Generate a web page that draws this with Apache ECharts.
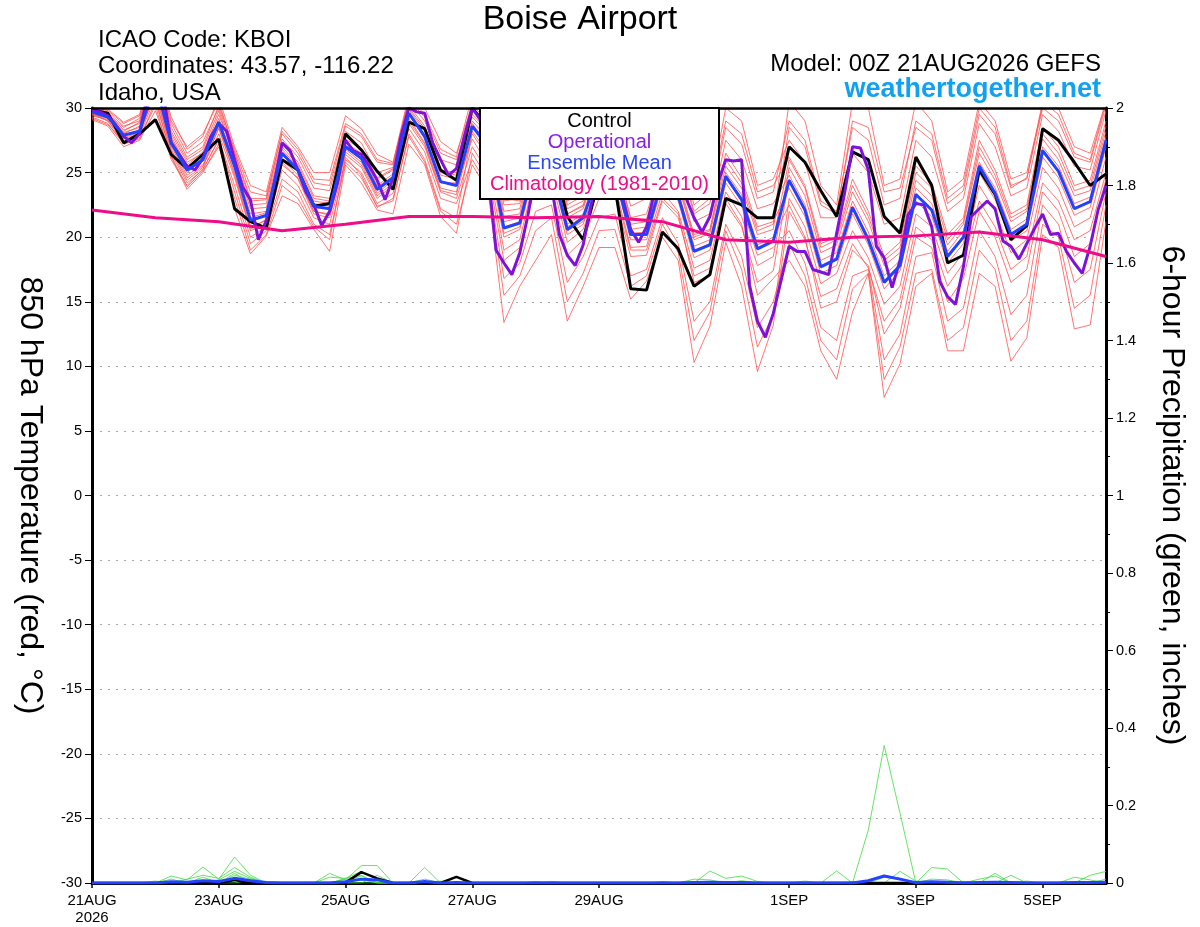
<!DOCTYPE html>
<html><head><meta charset="utf-8">
<script src="https://cdn.jsdelivr.net/npm/echarts@6/dist/echarts.min.js"></script>
<style>html,body{margin:0;padding:0;background:#fff}#c{width:1200px;height:927px}</style>
</head><body><div id="c"></div>
<script>
// ---------- time axis ----------
const stepHours = 6;        // ensemble / control / mean / precip
const opStepHours = 3;      // operational run
const climStepHours = 24;   // climatology (daily)
const tickHours  = [0, 48, 96, 144, 192, 264, 312, 360];
const tickLabels = ['21AUG\n2026', '23AUG', '25AUG', '27AUG', '29AUG', '1SEP', '3SEP', '5SEP'];

// ---------- 850 hPa temperature (°C) ----------
const control = [
29.85,29.6,27.3,28.0, 29.1,26.4,25.3,26.4, 27.6,22.2,21.2,20.7, 26.0,25.2,22.4,22.6,
28.0,26.75,25.1,23.7, 28.9,28.4,25.2,24.4, 30.0,28.5,24.0,23.5, 27.5,26.5,21.6,19.8,
24.5,24.0,16.0,15.9, 20.4,19.1,16.2,17.1, 23.0,22.5,21.5,21.5, 27.0,25.8,23.6,21.6,
26.6,26.0,21.6,20.3, 26.2,24.0,18.0,18.6, 25.2,23.3,19.8,20.9, 28.4,27.5,25.8,24.0, 24.9];
const ensMean = [
29.7,29.3,27.9,28.2, 32.0,27.3,25.2,26.0, 28.9,25.5,21.3,21.7, 26.5,25.2,22.4,22.2,
27.0,26.1,23.7,24.6, 29.6,27.8,24.3,24.0, 28.6,27.0,20.7,21.1, 26.0,25.5,20.6,21.5,
25.0,25.0,20.2,20.2, 24.5,23.2,18.9,19.4, 24.7,22.9,19.1,19.7, 24.4,22.1,17.7,18.3,
22.3,19.8,16.5,17.8, 23.3,22.1,18.5,20.0, 25.5,23.4,20.2,21.0, 26.7,25.1,22.2,22.75, 27.5];
const operational = [
29.9,29.7,29.4,28.7,27.8,27.3,28.0,31.0,
32.5,31.0,27.3,26.4,25.5,25.2,26.1,27.8,
28.8,28.2,26.0,23.9,22.9,19.8,21.3,24.2,
27.3,26.7,25.2,23.5,22.5,20.9,22.0,24.2,
27.5,26.7,26.4,25.5,24.4,22.9,24.6,27.8,
30.0,29.7,29.6,27.3,26.0,24.8,25.3,27.8,
30.0,29.1,25.0,19.0,18.0,17.1,18.8,21.6,
25.0,26.0,24.0,20.2,18.6,17.8,19.4,22.5,
25.0,25.5,24.5,23.0,20.6,19.6,20.8,23.5,
25.5,26.0,25.5,23.0,21.5,20.4,21.6,24.2,
26.0,25.9,26.0,16.3,13.5,12.25,14.1,16.7,
19.3,18.9,18.9,17.5,17.3,17.1,20.3,23.4,
27.0,26.9,25.2,19.3,18.4,16.1,18.2,21.7,
22.6,22.5,20.8,16.6,15.4,14.8,17.7,21.6,
22.2,22.8,22.2,19.7,19.3,18.3,19.5,20.7,
21.8,20.2,20.3,18.9,18.0,17.2,19.3,22.1,
24.0];
const climatology = [22.1,21.5,21.2,20.5,21.0,21.6,21.6,21.5,21.6,21.2,19.8,19.6,20.0,20.1,20.4,19.8,18.5];

const mem01 = [29.2,28.7,27.4,27.9, 30.8,26.2,23.7,25.0, 27.2,22.2,18.7,20.1, 23.2,22.6,20.6,18.9, 25.6,24.2,22.1,21.8, 27.2,25.6,21.6,20.3, 26.5,24.5,16.8,18.0, 22.0,22.5,16.5,18.5, 21.5,21.8,17.0,17.5, 21.5,19.5,13.5,15.0, 21.0,18.5,13.0,15.0, 19.5,17.0,12.0,10.5, 16.0,17.2,9.0,11.5, 17.2,17.5,12.0,13.0, 19.0,17.5,12.0,13.5, 21.0,20.0,14.5,15.5, 22.5];
const mem02 = [29.1,28.6,27.0,27.5, 29.8,26.3,23.9,25.1, 27.0,23.0,19.0,20.2, 24.0,23.0,20.8,19.8, 26.2,24.8,22.3,23.0, 27.8,25.8,22.0,21.0, 25.6,23.6,13.4,16.2, 18.2,20.2,13.5,16.2, 19.2,19.2,15.2,16.6, 20.0,18.2,10.3,13.1, 19.6,16.2,9.6,13.2, 22.0,19.8,15.4,16.0, 19.5,17.6,13.5,15.2, 20.8,19.8,16.2,18.0, 22.8,20.8,17.5,18.5, 24.2,22.8,19.8,20.5, 25.0];
const mem03 = [29.6,29.0,27.3,27.7, 30.2,26.0,24.0,25.3, 27.5,23.5,19.5,20.5, 24.5,23.5,21.0,20.2, 25.8,24.6,22.4,22.8, 28.0,26.0,22.2,21.5, 28.2,26.5,20.3,20.8, 25.8,25.2,20.5,21.2, 23.5,23.6,19.0,19.0, 23.0,21.8,16.5,17.0, 23.0,21.0,15.5,16.8, 18.2,16.2,11.2,9.0, 14.2,17.2,7.6,10.2, 16.2,17.2,11.2,11.2, 17.2,16.2,10.4,12.2, 20.2,19.2,12.9,13.2, 21.2];
const mem04 = [29.3,28.8,27.2,27.6, 30.5,26.5,24.2,25.2, 27.6,24.0,20.0,20.8, 25.2,24.0,21.5,21.0, 26.0,25.0,22.6,23.4, 28.4,26.6,23.0,22.6, 26.0,24.0,15.5,17.0, 20.5,21.5,15.0,17.2, 20.5,20.6,16.2,17.0, 21.0,18.8,12.0,14.2, 20.5,17.5,11.5,14.0, 23.0,20.8,16.4,17.2, 20.5,18.4,14.8,16.2, 21.8,20.8,17.2,18.8, 24.0,22.0,18.8,19.8, 25.4,23.8,20.8,21.5, 26.2];
const mem05 = [29.5,29.2,27.8,28.2, 31.0,26.7,24.4,25.4, 28.5,24.8,20.6,21.4, 25.6,24.6,22.0,21.7, 26.8,25.8,23.4,24.4, 29.0,27.2,23.6,23.3, 28.0,26.2,20.0,20.6, 25.5,25.0,20.2,21.0, 24.5,24.6,19.8,19.8, 24.0,22.8,18.4,19.0, 24.2,22.4,18.6,19.2, 20.5,18.0,13.0,12.0, 17.0,17.5,10.5,12.5, 18.5,18.8,13.5,14.5, 20.5,18.5,14.0,15.5, 22.5,21.0,16.5,17.5, 23.5];
const mem06 = [29.4,29.1,27.7,28.1, 31.2,26.8,24.6,25.5, 28.0,24.6,20.5,21.0, 25.8,24.5,21.8,21.5, 26.4,25.4,23.0,24.0, 28.8,27.0,23.5,23.0, 27.0,25.0,18.2,19.2, 24.0,23.8,18.6,19.8, 23.0,23.2,18.5,18.6, 22.8,21.5,17.0,17.6, 22.6,20.8,16.5,17.4, 24.5,22.2,17.8,18.4, 22.4,20.0,16.6,17.9, 23.4,22.2,18.6,20.1, 25.6,23.5,20.3,21.1, 26.8,25.2,22.3,22.8, 27.6];
const mem07 = [29.5,29.0,27.6,28.0, 31.5,27.0,24.8,25.6, 28.4,25.0,20.8,21.3, 26.0,24.8,22.0,21.8, 26.6,25.6,23.2,24.2, 29.2,27.3,23.8,23.5, 28.8,27.2,21.2,21.5, 26.5,26.0,21.0,21.8, 25.5,25.4,20.6,20.8, 24.8,23.5,19.3,19.8, 25.0,23.3,19.4,20.0, 22.5,20.0,14.5,15.0, 19.0,17.8,12.5,14.5, 20.0,19.2,15.0,16.8, 22.0,20.0,16.5,17.5, 23.5,22.0,18.5,19.5, 24.5];
const mem08 = [29.6,29.2,27.9,28.3, 31.8,27.3,25.0,26.0, 28.8,25.4,21.2,21.6, 26.4,25.0,22.3,22.2, 27.0,26.0,23.6,24.6, 29.6,27.8,24.3,24.0, 27.6,25.6,19.0,19.8, 25.0,24.5,19.6,20.6, 24.0,24.0,19.2,19.3, 23.5,22.0,17.6,18.2, 23.5,21.6,17.8,18.5, 25.4,23.2,18.8,19.4, 23.5,21.2,17.8,18.8, 24.4,23.2,19.4,21.0, 26.5,24.4,21.2,22.0, 27.6,26.0,23.2,23.6, 28.2];
const mem09 = [29.8,29.4,28.2,28.9, 32.6,27.6,25.6,26.6, 29.0,25.5,21.5,21.9, 26.6,25.3,22.6,22.4, 27.1,26.3,23.9,24.7, 29.5,27.6,24.2,24.2, 29.5,28.2,22.5,22.6, 27.5,26.8,21.8,22.5, 26.5,26.2,21.5,21.8, 25.8,24.5,20.2,20.6, 26.5,24.6,20.8,21.2, 23.8,21.6,17.2,17.8, 21.8,19.4,16.0,17.4, 22.8,21.6,18.0,19.5, 25.0,22.9,19.7,20.5, 26.2,24.6,21.7,22.3, 27.0];
const mem10 = [29.9,29.4,28.1,28.5, 32.2,27.8,25.5,26.3, 29.2,25.8,21.8,22.0, 26.8,25.4,22.8,22.6, 27.3,26.5,24.0,24.9, 29.9,28.2,24.8,24.5, 28.6,27.0,20.8,21.2, 26.2,25.6,20.8,21.6, 25.0,25.2,20.3,20.4, 24.6,23.3,19.0,19.5, 24.8,23.0,19.2,19.8, 26.0,23.8,19.2,19.8, 24.0,21.6,18.2,19.2, 25.0,23.8,19.8,21.2, 27.0,24.8,21.5,22.2, 28.0,26.5,23.6,24.0, 28.6];
const mem11 = [30.0,29.6,28.3,28.8, 32.5,28.0,25.8,26.5, 29.5,26.2,22.5,22.6, 27.2,25.8,23.2,23.0, 27.6,26.8,24.5,25.2, 30.2,28.6,25.2,25.0, 30.0,28.8,22.8,23.0, 28.0,27.2,22.2,22.8, 27.4,27.0,22.4,23.0, 26.6,25.5,21.2,21.8, 27.5,26.0,22.2,22.6, 24.8,22.5,18.2,18.8, 22.8,20.4,17.0,18.2, 23.8,22.6,18.9,20.5, 25.8,23.8,20.6,21.4, 27.0,25.5,22.6,23.1, 27.8];
const mem12 = [29.7,29.3,28.0,28.6, 32.8,28.2,26.0,26.8, 29.8,26.0,22.2,22.3, 27.0,25.6,23.0,22.8, 27.8,26.9,24.6,25.3, 30.0,28.4,25.0,24.8, 29.0,27.6,21.6,21.8, 27.0,26.4,21.5,22.2, 26.0,25.8,21.0,21.2, 25.2,24.0,19.8,20.3, 25.5,23.8,20.2,20.6, 28.5,27.0,22.5,21.8, 29.0,28.5,23.5,23.8, 28.5,27.5,22.6,23.6, 29.5,28.0,23.8,24.6, 30.0,29.0,26.2,25.8, 30.2];
const mem13 = [30.0,29.7,28.6,29.0, 33.2,28.8,26.5,27.4, 30.0,26.5,22.8,22.9, 27.6,26.2,23.8,23.6, 28.2,27.3,25.0,25.4, 30.5,29.0,26.0,25.6, 30.5,29.5,23.4,23.4, 29.0,28.0,22.8,23.4, 28.0,27.6,23.0,24.0, 27.0,26.5,22.0,23.0, 29.0,28.0,23.5,24.0, 26.2,24.0,19.5,20.0, 24.5,22.0,18.5,19.6, 25.5,24.2,20.2,21.5, 27.5,25.2,21.8,22.5, 28.5,27.0,24.0,24.4, 29.0];
const mem14 = [30.2,29.9,28.9,29.5, 33.4,29.0,27.0,28.0, 30.5,26.6,23.0,23.0, 28.2,26.8,24.5,24.4, 28.8,28.0,26.0,25.7, 30.6,29.3,26.5,26.0, 29.3,28.0,22.0,22.2, 27.2,26.6,21.8,22.4, 26.2,26.0,21.4,21.4, 25.5,24.2,20.0,20.5, 26.0,24.2,20.5,21.0, 30.5,29.0,24.0,22.5, 30.5,30.0,24.0,24.5, 30.5,29.0,23.5,24.5, 30.5,29.0,24.5,25.0, 30.2,30.0,27.0,26.5, 30.5];
const mem15 = [29.8,29.5,28.5,29.2, 33.0,28.5,26.2,27.0, 30.2,26.8,23.5,23.2, 28.0,26.5,24.2,24.0, 28.6,27.8,25.8,25.6, 30.8,29.5,26.8,26.2, 31.0,30.0,23.0,22.8, 28.5,27.8,23.0,23.0, 29.0,28.5,23.5,25.0, 27.5,27.0,22.5,23.5, 30.0,29.0,24.0,24.5, 27.5,25.8,21.5,21.5, 26.5,25.0,21.0,21.5, 27.5,26.2,22.0,23.0, 28.8,27.0,23.2,23.8, 29.5,28.2,25.5,25.2, 29.8];
const mem16 = [30.1,29.8,28.8,29.4, 33.5,29.3,26.8,27.8, 30.8,27.0,24.0,23.5, 28.5,27.0,25.0,25.0, 29.4,28.4,26.4,25.8, 31.0,30.0,27.4,26.5, 30.2,29.0,23.2,23.3, 29.5,28.4,22.5,23.2, 28.4,28.0,23.2,24.5, 27.2,26.2,21.8,22.6, 28.5,27.2,23.0,23.5, 29.0,27.5,22.8,22.0, 28.5,27.5,22.5,23.0, 29.0,28.0,23.0,24.0, 30.0,28.5,24.0,24.5, 30.5,29.5,26.5,26.0, 30.5];
const members = [mem01,mem02,mem03,mem04,mem05,mem06,mem07,mem08,mem09,mem10,mem11,mem12,mem13,mem14,mem15,mem16];

// ---------- 6-hour precipitation (inches) ----------
const pcpMem1 = [0,0,0,0, 0,0.018,0.008,0.041, 0.01,0.067,0.02,0, 0,0,0,0.025, 0.008,0.045,0.045,0, 0,0,0,0, 0,0,0,0, 0,0,0,0, 0,0,0,0, 0,0,0,0.031, 0.012,0.018,0.004,0, 0,0,0,0, 0,0,0,0, 0,0.04,0.036,0, 0,0,0,0, 0,0,0,0, 0];
const pcpMem2 = [0,0,0,0, 0,0,0.01,0.02, 0.012,0.04,0.015,0, 0,0,0,0, 0.012,0.03,0.01,0, 0,0.04,0,0, 0,0,0,0, 0,0,0,0, 0,0,0,0, 0,0,0,0, 0,0,0,0, 0,0,0,0, 0,0.137,0.355,0.18, 0,0,0,0, 0,0.025,0,0, 0,0,0,0, 0];
const pcpMem3 = [0,0,0,0, 0,0,0,0, 0.008,0.03,0.012,0, 0,0,0,0.015, 0.012,0.02,0,0, 0,0,0,0, 0,0,0,0, 0,0,0,0, 0,0,0,0, 0,0,0.01,0.008, 0,0,0,0, 0,0,0,0.031, 0,0,0,0.03, 0.005,0,0,0, 0,0,0.02,0, 0,0,0,0.02, 0.03];
const pcpMem4 = [0,0,0,0, 0,0,0,0, 0,0.02,0.01,0, 0,0,0,0, 0.005,0.018,0,0, 0,0.01,0,0, 0,0,0,0, 0.004,0,0,0, 0,0,0,0, 0,0,0,0, 0,0,0,0, 0,0,0,0, 0,0,0.015,0.01, 0,0,0,0, 0.01,0.018,0,0, 0,0,0,0, 0.01];
const pcpMem5 = [0,0,0,0, 0,0.01,0,0, 0,0.025,0,0, 0,0,0,0, 0,0.012,0,0, 0,0,0,0, 0,0,0,0, 0,0,0,0, 0,0,0,0, 0.004,0,0,0, 0,0,0,0, 0,0,0,0, 0,0,0,0, 0,0.01,0.008,0, 0,0,0,0, 0,0,0.015,0.008, 0];
const pcpMem6 = [0,0,0,0, 0,0,0,0, 0,0.012,0.005,0, 0,0,0,0, 0,0,0.02,0, 0,0,0,0, 0,0,0,0, 0,0,0,0, 0,0,0,0, 0,0,0,0, 0,0,0,0, 0,0.005,0,0, 0,0,0.02,0.012, 0,0,0,0, 0,0,0,0, 0,0,0,0, 0];
const pcpMem7 = [0,0,0,0, 0,0,0,0.015, 0,0.015,0,0, 0,0,0,0, 0.01,0.008,0,0, 0,0,0,0, 0,0,0,0, 0,0,0,0, 0,0,0,0, 0,0,0,0, 0,0.006,0,0, 0,0,0,0, 0,0,0,0, 0,0,0,0, 0,0,0,0.005, 0,0,0,0, 0];
const pcpMem8 = [0,0,0,0, 0.005,0,0,0, 0,0,0.008,0, 0,0,0,0, 0,0,0,0, 0,0,0.005,0, 0,0,0,0, 0,0.004,0,0, 0,0,0,0, 0,0,0,0, 0,0,0,0, 0,0,0,0, 0.003,0,0,0, 0,0,0,0.004, 0,0,0,0, 0,0,0,0, 0];
const pcpMembers = [pcpMem1,pcpMem2,pcpMem3,pcpMem4,pcpMem5,pcpMem6,pcpMem7,pcpMem8];
const pcpControl = [0,0,0,0, 0,0,0,0, 0,0.008,0,0, 0,0,0,0, 0.001,0.028,0.012,0, 0,0,0,0.016, 0,0,0,0, 0,0,0,0, 0,0,0,0, 0,0,0,0, 0,0,0,0, 0,0,0,0, 0,0,0,0, 0,0,0,0, 0,0,0,0, 0,0,0,0, 0];
const pcpMean = [0,0,0,0, 0,0.003,0.002,0.006, 0.004,0.012,0.006,0.001, 0,0,0,0, 0.003,0.01,0.008,0, 0,0.004,0,0.001, 0,0,0,0, 0,0,0,0, 0,0,0,0, 0,0,0.001,0.002, 0.001,0.001,0,0, 0,0,0,0, 0,0.006,0.018,0.01, 0.001,0.003,0.002,0, 0.001,0.002,0.001,0, 0,0,0.001,0.001, 0.002];

// ---------- texts ----------
const titleText = 'Boise Airport';
const headerLeft = ['ICAO Code: KBOI', 'Coordinates: 43.57, -116.22', 'Idaho, USA'];
const modelText = 'Model: 00Z 21AUG2026 GEFS';
const siteText = 'weathertogether.net';
const legendItems = ['Control', 'Operational', 'Ensemble Mean', 'Climatology (1981-2010)'];

const FONT = '"Liberation Sans", Arial, Helvetica, sans-serif';
const C_RED = '#ff5050', C_GREEN = '#3fdc3f', C_BLACK = '#000000', C_PURPLE = '#7d12d8', C_BLUE = '#2242ff', C_MAG = '#ee0c88';

function pairs(arr, step) { return arr.map((v, i) => [i * step, v]); }
function line(name, data, color, width, yIdx, z) {
  return { name, type: 'line', data, yAxisIndex: yIdx, xAxisIndex: 0, symbol: 'none', showSymbol: false,
    silent: true, z: z, clip: true, lineStyle: { color, width }, itemStyle: { color } };
}

const series = [];
members.forEach((m, k) => series.push(line('mem' + (k + 1), pairs(m, stepHours), C_RED, 0.8, 0, 2)));
pcpMembers.forEach((m, k) => series.push(line('pcp' + (k + 1), pairs(m, stepHours), C_GREEN, 0.8, 1, 2)));
series.push(line('pcpControl', pairs(pcpControl, stepHours), C_BLACK, 2.5, 1, 3));
series.push(line('pcpMean', pairs(pcpMean, stepHours), C_BLUE, 3, 1, 3));
series.push(line('Control', pairs(control, stepHours), C_BLACK, 3, 0, 3));
series.push(line('Operational', pairs(operational, opStepHours), C_PURPLE, 3, 0, 3));
series.push(line('Ensemble Mean', pairs(ensMean, stepHours), C_BLUE, 3, 0, 3));
series.push(line('Climatology', pairs(climatology, climStepHours), C_MAG, 3, 0, 3));

function txt(text, x, y, size, color, align, weight) {
  return { type: 'text', z: 100, silent: true,
    style: { text, x, y, fill: color, font: (weight || 'normal') + ' ' + size + 'px ' + FONT,
      textAlign: align, align: align, textVerticalAlign: 'middle', verticalAlign: 'middle' } };
}
const legendColors = [C_BLACK, '#8a1ee6', '#2a46f5', C_MAG];
const graphics = [
  txt(titleText, 580, 20, 34, '#000', 'center'),
  txt(headerLeft[0], 98, 40, 24, '#000', 'left'),
  txt(headerLeft[1], 98, 66, 24, '#000', 'left'),
  txt(headerLeft[2], 98, 93, 24, '#000', 'left'),
  txt(modelText, 1101, 64, 24, '#000', 'right'),
  txt(siteText, 1101, 90, 27, '#12a0f0', 'right', 'bold'),
  { type: 'rect', z: 99, silent: true, shape: { x: 480, y: 108, width: 239, height: 91 },
    style: { fill: '#fff', stroke: '#000', lineWidth: 2 } }
];
legendItems.forEach((t, k) => graphics.push(txt(t, 599.5, 121 + k * 21.3, 20, legendColors[k], 'center')));

const option = {
  animation: false,
  backgroundColor: '#fff',
  textStyle: { fontFamily: FONT },
  grid: { left: 92, right: 94, top: 108, bottom: 44, show: false },
  xAxis: [{
    type: 'value', min: 0, max: 384, position: 'bottom',
    axisLine: { show: true, onZero: false, lineStyle: { color: '#000', width: 3 } },
    axisTick: { show: true, customValues: tickHours, length: 5, lineStyle: { color: '#000', width: 1.5 } },
    axisLabel: { customValues: tickHours, formatter: v => { const k = tickHours.indexOf(v); return k >= 0 ? tickLabels[k] : ''; },
      color: '#000', fontSize: 15, margin: 9, lineHeight: 17, fontFamily: FONT },
    splitLine: { show: false }
  }, {
    type: 'value', min: 0, max: 384, position: 'top', z: 10,
    axisLine: { show: true, onZero: false, lineStyle: { color: '#000', width: 2.5 } },
    axisTick: { show: false }, axisLabel: { show: false }, splitLine: { show: false }
  }],
  yAxis: [
    { type: 'value', min: -30, max: 30, interval: 5, position: 'left',
      name: '850 hPa Temperature (red, °C)', nameLocation: 'middle', nameRotate: -90, nameGap: 46,
      nameTextStyle: { fontSize: 32, color: '#000', fontFamily: FONT },
      axisLine: { show: true, onZero: false, lineStyle: { color: '#000', width: 3 } },
      axisTick: { show: true, length: 7, lineStyle: { color: '#000' } },
      axisLabel: { color: '#000', fontSize: 14.5, margin: 10, fontFamily: FONT },
      splitLine: { show: true, lineStyle: { color: '#a8a8a8', type: [2, 6], width: 1 } } },
    { type: 'value', min: 0, max: 2, interval: 0.2, position: 'right',
      name: '6-hour Precipitation (green, inches)', nameLocation: 'middle', nameRotate: -90, nameGap: 50,
      nameTextStyle: { fontSize: 32, color: '#000', fontFamily: FONT },
      axisLine: { show: true, onZero: false, lineStyle: { color: '#000', width: 3 } },
      axisTick: { show: true, length: 7, lineStyle: { color: '#000' } },
      minorTick: { show: true, splitNumber: 2, length: 4, lineStyle: { color: '#000' } },
      axisLabel: { color: '#000', fontSize: 14.5, margin: 10, fontFamily: FONT },
      splitLine: { show: false } }
  ],
  series,
  graphic: { elements: graphics }
};
const chart = echarts.init(document.getElementById('c'), null, { renderer: 'canvas' });
chart.setOption(option);
</script>
</body></html>
